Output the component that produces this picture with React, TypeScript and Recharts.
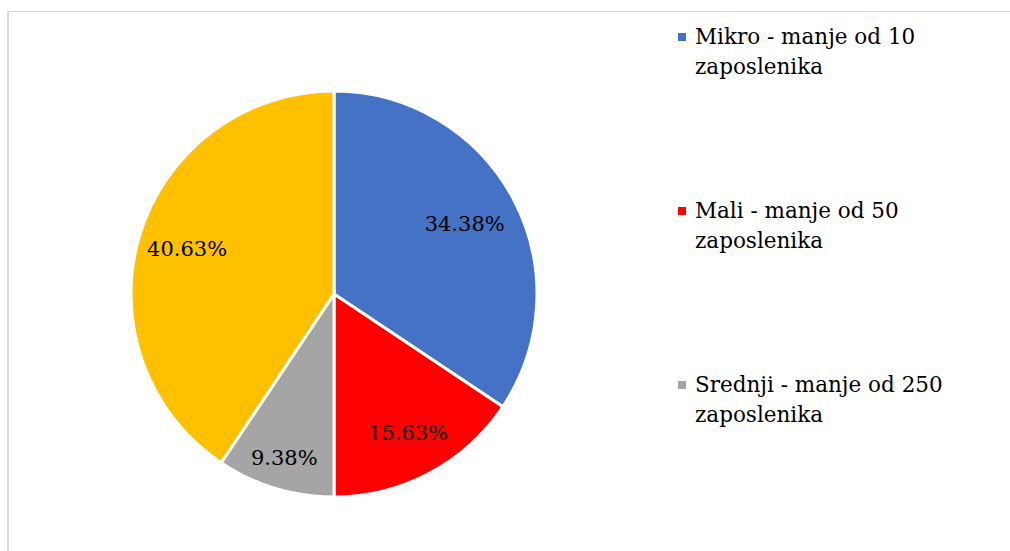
import React from 'react';
import { PieChart, Pie, Cell } from 'recharts';

const categories = [
  'Mikro - manje od 10 zaposlenika',
  'Mali - manje od 50 zaposlenika',
  'Srednji - manje od 250 zaposlenika',
  'Veliki - 250 i više zaposlenika',
];
const legendLine1 = ['Mikro - manje od 10', 'Mali - manje od 50', 'Srednji - manje od 250', 'Veliki - 250 i više'];
const legendLine2 = ['zaposlenika', 'zaposlenika', 'zaposlenika', 'zaposlenika'];
const values = [34.38, 15.63, 9.38, 40.63];
const colors = ['#4472C4', '#FF0000', '#A5A5A5', '#FFC000'];
const labelRadiusRatio = [0.73, 0.776, 0.843, 0.756];
const visibleLegendItems = 3;

const data = categories.map((name, i) => ({ name, value: values[i] }));

const FONT = "'DejaVu Serif', serif";
const RAD = Math.PI / 180;

const renderLabel = (props: any) => {
  const { cx, cy, midAngle, outerRadius, index, value } = props;
  const r = outerRadius * labelRadiusRatio[index];
  const x = cx + r * Math.cos(-midAngle * RAD);
  const y = cy + r * Math.sin(-midAngle * RAD);
  return (
    <text
      x={x}
      y={y}
      fill="#000"
      fontSize={21}
      style={{ fontFamily: FONT }}
      textAnchor="middle"
      dominantBaseline="central"
    >
      {`${Number(value).toFixed(2)}%`}
    </text>
  );
};

export default function App() {
  return (
    <div
      style={{
        position: 'fixed',
        left: 0,
        top: 0,
        width: 1010,
        height: 551,
        overflow: 'hidden',
        background: '#fff',
      }}
    >
      <div
        style={{
          position: 'absolute',
          left: 7,
          top: 11,
          width: 1100,
          height: 700,
          borderLeft: '2px solid #d9d9d9',
          borderTop: '1px solid #d9d9d9',
        }}
      />
      <div style={{ position: 'absolute', left: 0, top: 0 }}>
        <PieChart width={1010} height={551} margin={{ top: 0, right: 0, bottom: 0, left: 0 }}>
          <Pie
            data={data}
            dataKey="value"
            nameKey="name"
            cx={334}
            cy={294}
            outerRadius={203}
            startAngle={90}
            endAngle={-270}
            stroke="#fff"
            strokeWidth={3}
            label={renderLabel}
            labelLine={false}
            isAnimationActive={false}
          >
            {data.map((d, i) => (
              <Cell key={d.name} fill={colors[i]} />
            ))}
          </Pie>
        </PieChart>
      </div>
      <div
        style={{
          position: 'absolute',
          left: 676,
          top: 22,
          width: 330,
          fontFamily: FONT,
          fontSize: 21.5,
          color: '#000',
        }}
      >
        {categories.slice(0, visibleLegendItems).map((c, i) => (
          <div key={c} style={{ position: 'relative', height: 174, paddingLeft: 19 }}>
            <div
              style={{
                position: 'absolute',
                left: 2,
                top: 11,
                width: 8,
                height: 8,
                background: colors[i],
              }}
            />
            <div style={{ lineHeight: '30px', whiteSpace: 'nowrap' }}>{legendLine1[i]}</div>
            <div style={{ lineHeight: '30px', whiteSpace: 'nowrap' }}>{legendLine2[i]}</div>
          </div>
        ))}
      </div>
    </div>
  );
}
